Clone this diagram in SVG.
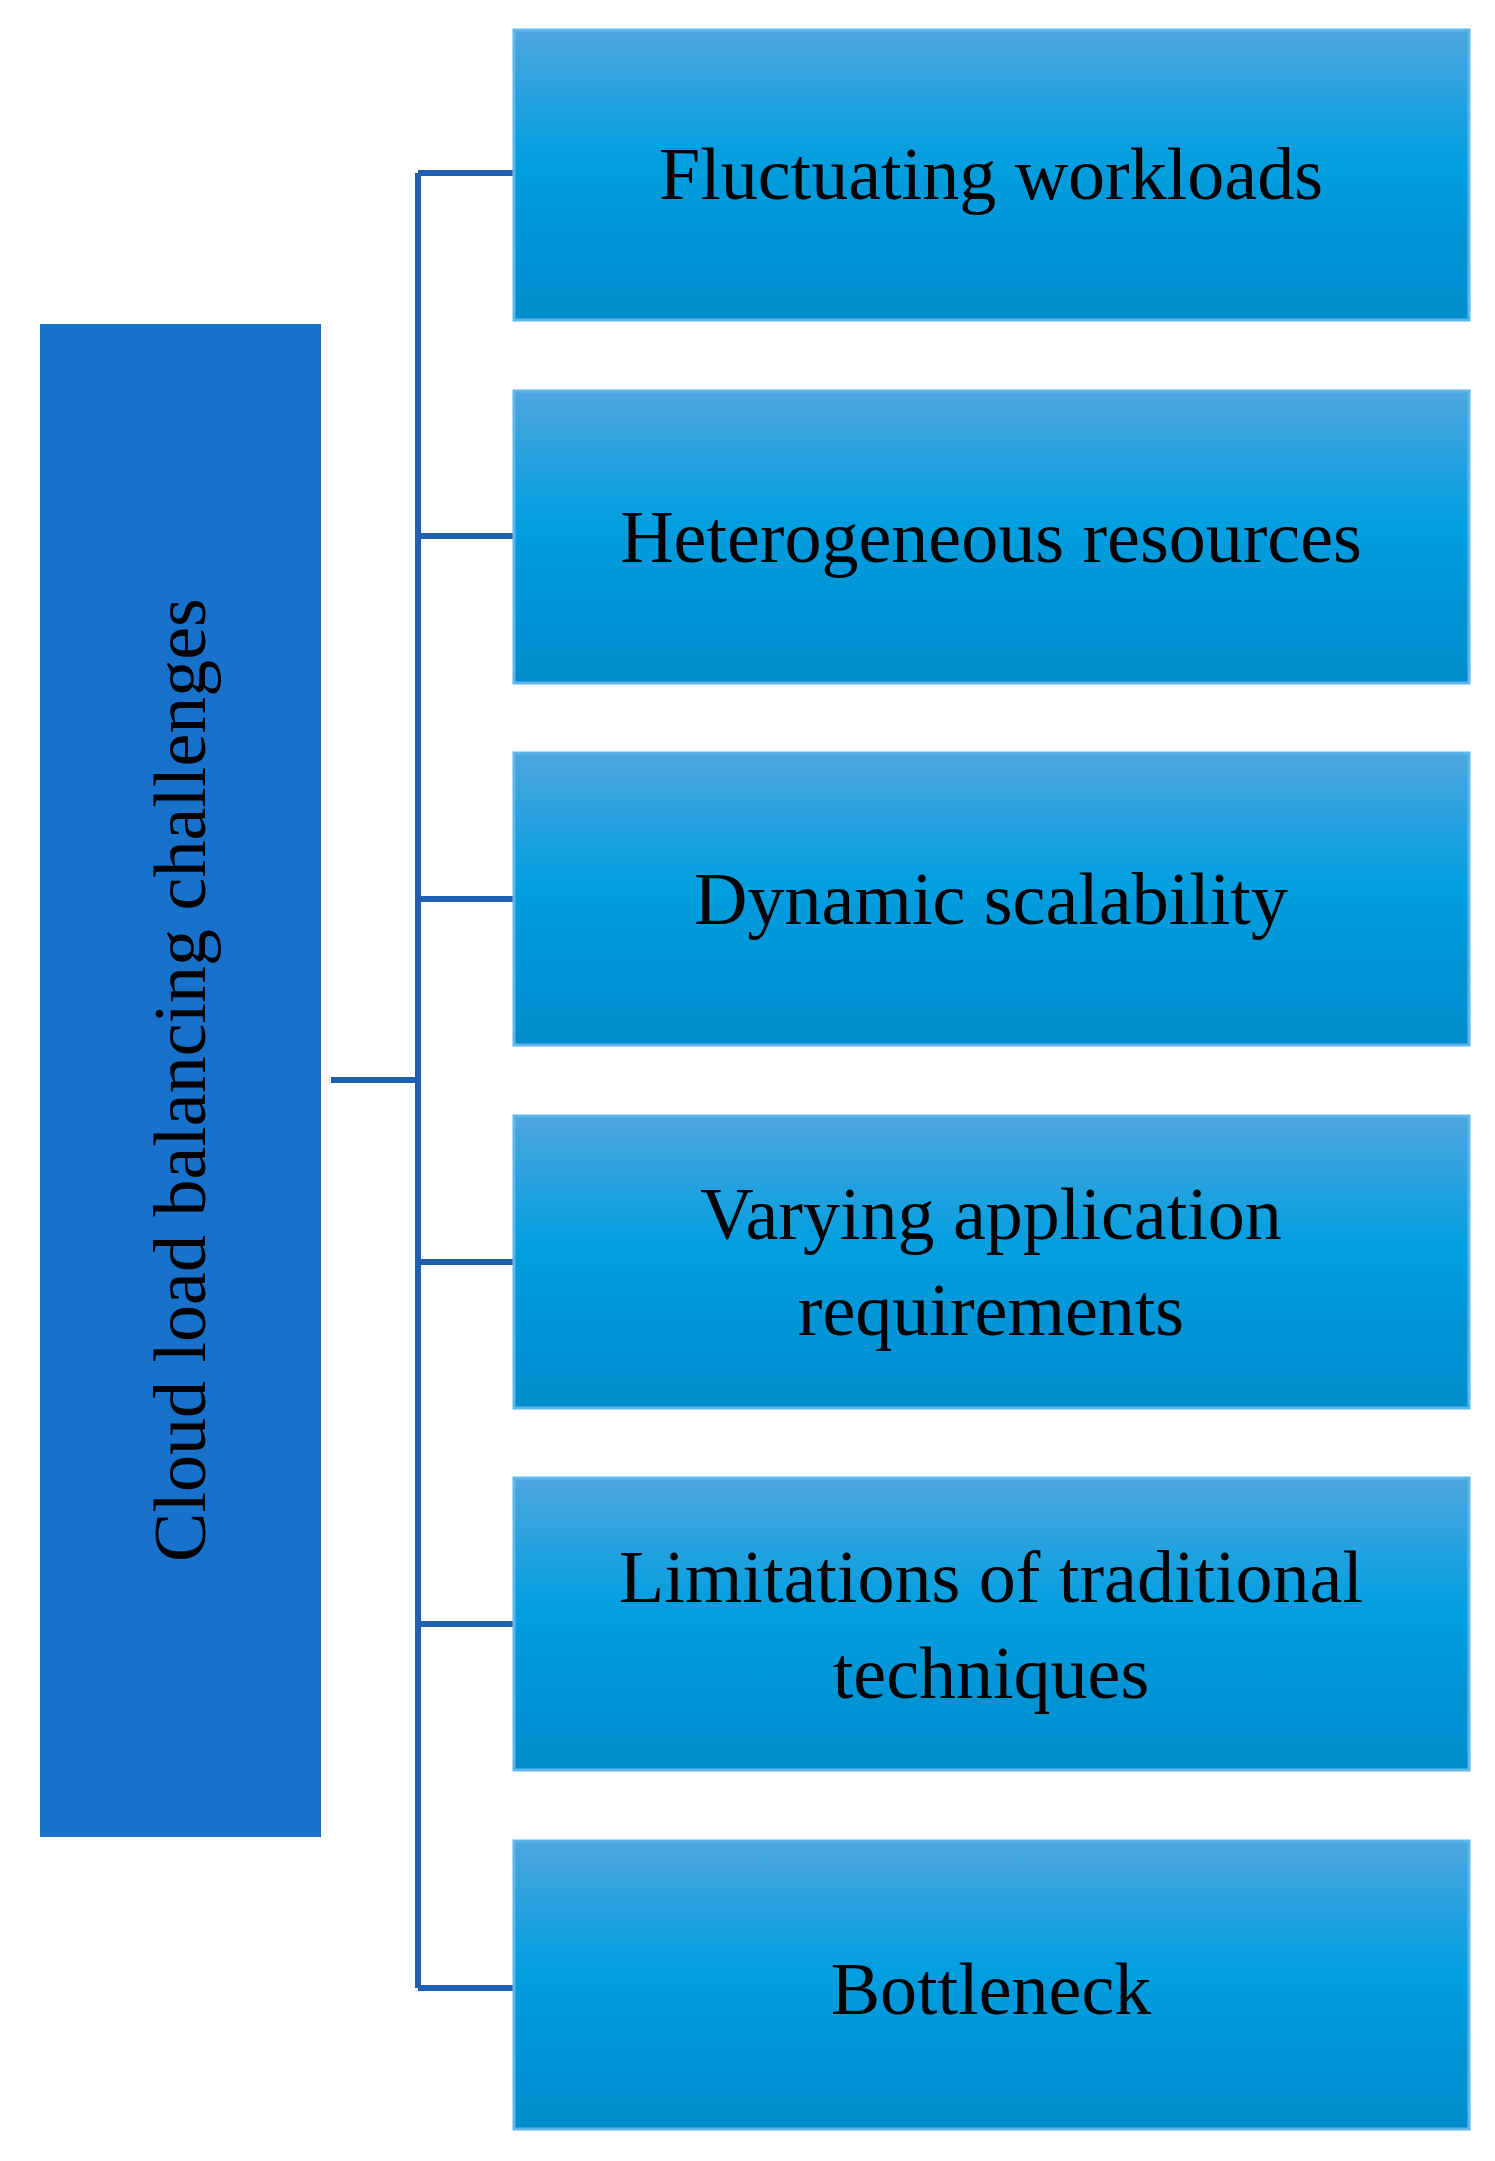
<svg xmlns="http://www.w3.org/2000/svg" width="1495" height="2161" viewBox="0 0 1495 2161">
<defs>
<linearGradient id="g" x1="0" y1="0" x2="0" y2="1">
<stop offset="0" stop-color="#4ea6de"/><stop offset="0.45" stop-color="#019ee0"/><stop offset="1" stop-color="#008ccc"/>
</linearGradient>
</defs>
<style>
.b{fill:url(#g);stroke:#5fb6ea;stroke-width:3}
.t{font-family:"Liberation Serif",serif;font-size:74px;fill:#000;text-anchor:middle}
.c{stroke:#1f5fb0;stroke-width:6;fill:none}
</style>
<rect width="1495" height="2161" fill="#fff"/>
<g id="root"><rect x="40" y="324" width="281" height="1513" fill="#1872cb"/>
<text class="t" transform="translate(205,1080) rotate(-90)">Cloud load balancing challenges</text></g>
<g id="connectors">
<path class="c" d="M331 1080H418M418 173V1988M418 173H514M418 536H514M418 899H514M418 1262H514M418 1624H514M418 1988H514"/>
</g>
<g id="n1"><rect class="b" x="514" y="30" width="955" height="290"/><text class="t" x="991" y="199">Fluctuating workloads</text></g>
<g id="n2"><rect class="b" x="514" y="391" width="955" height="292"/><text class="t" x="991" y="562">Heterogeneous resources</text></g>
<g id="n3"><rect class="b" x="514" y="753" width="955" height="292"/><text class="t" x="991" y="924">Dynamic scalability</text></g>
<g id="n4"><rect class="b" x="514" y="1116" width="955" height="292"/><text class="t" x="991" y="1239">Varying application</text><text class="t" x="991" y="1335">requirements</text></g>
<g id="n5"><rect class="b" x="514" y="1478" width="955" height="292"/><text class="t" x="991" y="1602">Limitations of traditional</text><text class="t" x="991" y="1698">techniques</text></g>
<g id="n6"><rect class="b" x="514" y="1841" width="955" height="288"/><text class="t" x="991" y="2014">Bottleneck</text></g>
</svg>
